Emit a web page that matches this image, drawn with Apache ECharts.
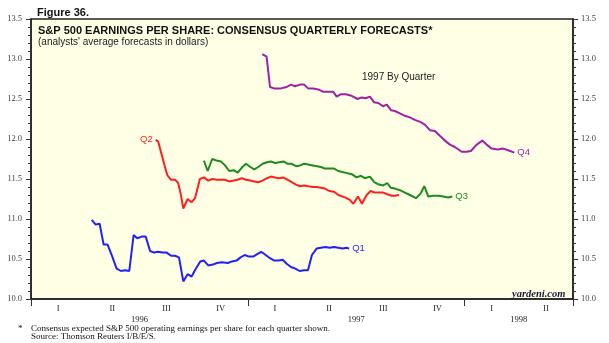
<!DOCTYPE html>
<html>
<head>
<meta charset="utf-8">
<script src="https://cdn.jsdelivr.net/npm/echarts@6/dist/echarts.min.js"></script>
<style>
html,body{margin:0;padding:0;background:#fff;}
#chart{width:609px;height:343px;}
</style>
</head>
<body>
<div id="chart"></div>
<script>
// x values: months since start of 1996 (0 = Jan 1996, 30 = Jul 1998)
const q1X = [3.36,3.58,3.80,4.02,4.24,4.50,4.74,4.98,5.20,5.44,5.68,5.88,6.13,6.35,6.59,6.81,7.04,7.27,7.51,7.75,7.97,8.19,8.43,8.67,8.89,9.13,9.37,9.57,9.81,10.06,10.29,10.55,10.90,11.12,11.38,11.60,11.83,12.06,12.30,12.52,12.74,12.99,13.23,13.46,13.71,13.93,14.15,14.39,14.63,14.87,15.11,15.33,15.55,15.81,16.05,16.29,16.53,16.77,17.01,17.25,17.47,17.61];
const q1Y = [10.99,10.93,10.94,10.68,10.68,10.53,10.38,10.35,10.36,10.35,10.80,10.76,10.78,10.78,10.60,10.58,10.59,10.58,10.58,10.54,10.54,10.52,10.22,10.31,10.28,10.38,10.47,10.48,10.42,10.43,10.45,10.46,10.45,10.47,10.48,10.52,10.55,10.53,10.53,10.56,10.59,10.55,10.51,10.48,10.48,10.49,10.44,10.40,10.38,10.35,10.36,10.36,10.55,10.63,10.64,10.65,10.64,10.65,10.64,10.63,10.64,10.63];

const q2X = [6.90,7.04,7.19,7.38,7.54,7.75,7.97,8.15,8.28,8.43,8.67,8.89,9.08,9.35,9.57,9.81,10.03,10.28,10.51,10.74,10.97,11.22,11.44,11.66,11.90,12.14,12.36,12.58,12.82,13.06,13.28,13.50,13.74,13.96,14.21,14.43,14.67,14.89,15.12,15.35,15.59,15.83,16.05,16.27,16.51,16.78,17.01,17.38,17.65,17.84,18.10,18.32,18.58,18.80,19.04,19.26,19.50,19.72,19.96,20.14,20.37];
const q2Y = [11.99,11.97,11.84,11.68,11.55,11.49,11.49,11.45,11.32,11.13,11.25,11.21,11.26,11.50,11.52,11.48,11.50,11.49,11.49,11.49,11.47,11.48,11.49,11.51,11.49,11.48,11.47,11.46,11.48,11.51,11.53,11.52,11.51,11.52,11.49,11.46,11.43,11.41,11.42,11.41,11.40,11.40,11.39,11.38,11.35,11.34,11.30,11.27,11.24,11.19,11.28,11.19,11.30,11.35,11.33,11.33,11.33,11.31,11.29,11.29,11.30];

const q3X = [9.57,9.78,10.03,10.28,10.51,10.74,10.97,11.22,11.44,11.66,11.90,12.14,12.36,12.58,12.82,13.06,13.28,13.50,13.74,13.98,14.21,14.43,14.67,14.89,15.12,15.35,15.59,15.83,16.05,16.27,16.51,16.78,17.01,17.38,17.75,18.02,18.26,18.48,18.76,19.00,19.26,19.50,19.72,19.92,20.14,20.42,20.70,20.97,21.31,21.57,21.77,21.99,22.26,22.54,22.82,23.09,23.32];
const q3Y = [11.73,11.60,11.75,11.73,11.72,11.67,11.60,11.61,11.58,11.64,11.69,11.65,11.62,11.65,11.69,11.71,11.72,11.70,11.71,11.72,11.69,11.69,11.66,11.67,11.69,11.68,11.67,11.66,11.65,11.63,11.63,11.63,11.60,11.58,11.56,11.52,11.54,11.51,11.53,11.46,11.43,11.42,11.45,11.39,11.38,11.36,11.33,11.30,11.26,11.32,11.41,11.28,11.29,11.29,11.28,11.27,11.28];

const q4X = [12.80,13.04,13.23,13.50,13.78,14.15,14.39,14.61,14.89,15.12,15.35,15.62,15.90,16.18,16.45,16.73,16.92,17.16,17.42,17.75,18.08,18.30,18.52,18.76,18.98,19.22,19.48,19.70,19.92,20.14,20.42,20.70,20.97,21.25,21.57,21.80,22.08,22.36,22.63,22.91,23.19,23.46,23.84,24.11,24.35,24.67,24.98,25.22,25.50,25.83,26.14,26.41,26.75];
const q4Y = [13.06,13.03,12.65,12.63,12.63,12.65,12.68,12.66,12.68,12.68,12.63,12.63,12.62,12.59,12.59,12.59,12.53,12.56,12.56,12.54,12.50,12.52,12.51,12.53,12.46,12.45,12.41,12.43,12.36,12.35,12.32,12.29,12.27,12.24,12.21,12.18,12.11,12.10,12.04,11.98,11.93,11.90,11.84,11.84,11.85,11.93,11.98,11.93,11.88,11.87,11.88,11.86,11.83];

const seriesNames = ['Q1','Q2','Q3','Q4'];
const quarterLabels = ['I','II','III','IV'];
const yearLabels = ['1996','1997','1998'];
const yearLabelMonths = [6, 18, 27];

const colors = ['#1f1fff','#ff1f1f','#1e8a1e','#a020a8'];
const serif = '"Liberation Serif", "Times New Roman", serif';
const sans = '"Liberation Sans", Arial, Helvetica, sans-serif';

function zip(xs, ys){ return xs.map((x,i)=>[x, ys[i]]); }

const chart = echarts.init(document.getElementById('chart'), null, {renderer:'canvas'});

function lineSeries(idx, xs, ys, labelAtStart){
  const s = {
    name: seriesNames[idx],
    type: 'line',
    xAxisIndex: 0, yAxisIndex: 0,
    data: zip(xs, ys),
    showSymbol: false,
    symbol: 'none',
    smooth: false,
    lineStyle: {color: colors[idx], width: 2},
    itemStyle: {color: colors[idx]},
    emphasis: {disabled: true},
    animation: false
  };
  if (labelAtStart) {
    s.markPoint = {
      symbol: 'circle', symbolSize: 0, animation: false,
      data: [{coord: [xs[0], ys[0]]}],
      label: {show: true, position: 'left', distance: 3, formatter: seriesNames[idx],
              color: colors[idx], fontFamily: sans, fontSize: 9.5}
    };
  } else {
    s.endLabel = {show: true, formatter: seriesNames[idx], color: colors[idx],
                  fontFamily: sans, fontSize: 9.5, distance: 3};
  }
  return s;
}

const yAxisCommon = {
  type: 'value', min: 10, max: 13.5, interval: 0.5,
  axisLine: {show: true, onZero: false, lineStyle: {color: '#222', width: 1.5}},
  axisTick: {show: true, length: 5, lineStyle: {color: '#333'}},
  minorTick: {show: true, splitNumber: 5, length: 3, lineStyle: {color: '#333'}},
  splitLine: {show: false},
  axisLabel: {color: '#444', fontFamily: serif, fontSize: 8.5, formatter: v => v.toFixed(1)}
};

const option = {
  animation: false,
  backgroundColor: '#ffffff',
  grid: {left: 31, right: 36, top: 19, bottom: 44, show: true,
         backgroundColor: '#ffffe6', borderColor: '#222', borderWidth: 1.5},
  title: [
    {text: 'Figure 36.', left: 37, top: 7, padding: 0,
     textStyle: {fontFamily: sans, fontSize: 11, fontWeight: 'bold', color: '#111'}},
    {text: 'S&P 500 EARNINGS PER SHARE: CONSENSUS QUARTERLY FORECASTS*', left: 38, top: 25, padding: 0,
     textStyle: {fontFamily: sans, fontSize: 11, fontWeight: 'bold', color: '#111'}},
    {text: "(analysts' average forecasts in dollars)", left: 38, top: 37, padding: 0,
     textStyle: {fontFamily: sans, fontSize: 10, fontWeight: 'normal', color: '#222'}},
    {text: '1997 By Quarter', left: 362, top: 72, padding: 0,
     textStyle: {fontFamily: sans, fontSize: 10, fontWeight: 'normal', color: '#222'}},
    {text: 'yardeni.com', left: 512, top: 289, padding: 0,
     textStyle: {fontFamily: serif, fontSize: 10.5, fontWeight: 'bold', fontStyle: 'italic', color: '#1a1a3a'}},
    {text: '*', left: 18, top: 324, padding: 0,
     textStyle: {fontFamily: serif, fontSize: 9, fontWeight: 'normal', color: '#111'}},
    {text: 'Consensus expected S&P 500 operating earnings per share for each quarter shown.', left: 31, top: 324, padding: 0,
     textStyle: {fontFamily: serif, fontSize: 9, fontWeight: 'normal', color: '#111'}},
    {text: 'Source: Thomson Reuters I/B/E/S.', left: 31, top: 332, padding: 0,
     textStyle: {fontFamily: serif, fontSize: 9, fontWeight: 'normal', color: '#111'}}
  ],
  xAxis: [
    {type: 'value', min: 0, max: 30, interval: 12, position: 'bottom',
     axisLine: {show: true, onZero: false, lineStyle: {color: '#222', width: 1.5}},
     axisTick: {show: true, length: 7, lineStyle: {color: '#333'}},
     axisLabel: {show: false}, splitLine: {show: false}},
    {type: 'value', min: 0, max: 30, interval: 1.5, position: 'bottom',
     axisLine: {show: false}, axisTick: {show: false}, splitLine: {show: false},
     axisLabel: {show: true, margin: 5, color: '#222', fontFamily: serif, fontSize: 8.5,
       formatter: v => {
         const k = Math.round(v / 1.5);
         if (k % 2 === 0) return '';
         return quarterLabels[Math.floor(v / 3) % 4];
       }}},
    {type: 'value', min: 0, max: 30, interval: 3, position: 'bottom',
     axisLine: {show: false}, axisTick: {show: false}, splitLine: {show: false},
     axisLabel: {show: true, margin: 16, color: '#222', fontFamily: serif, fontSize: 8.5,
       formatter: v => {
         const i = yearLabelMonths.indexOf(Math.round(v));
         return i >= 0 ? yearLabels[i] : '';
       }}}
  ],
  yAxis: [
    Object.assign({}, yAxisCommon, {position: 'left', axisLabel: Object.assign({}, yAxisCommon.axisLabel, {margin: 9})}),
    Object.assign({}, yAxisCommon, {position: 'right', axisLabel: Object.assign({}, yAxisCommon.axisLabel, {margin: 8})})
  ],
  series: [
    lineSeries(0, q1X, q1Y, false),
    lineSeries(1, q2X, q2Y, true),
    lineSeries(2, q3X, q3Y, false),
    lineSeries(3, q4X, q4Y, false)
  ]
};
chart.setOption(option);
</script>
</body>
</html>
